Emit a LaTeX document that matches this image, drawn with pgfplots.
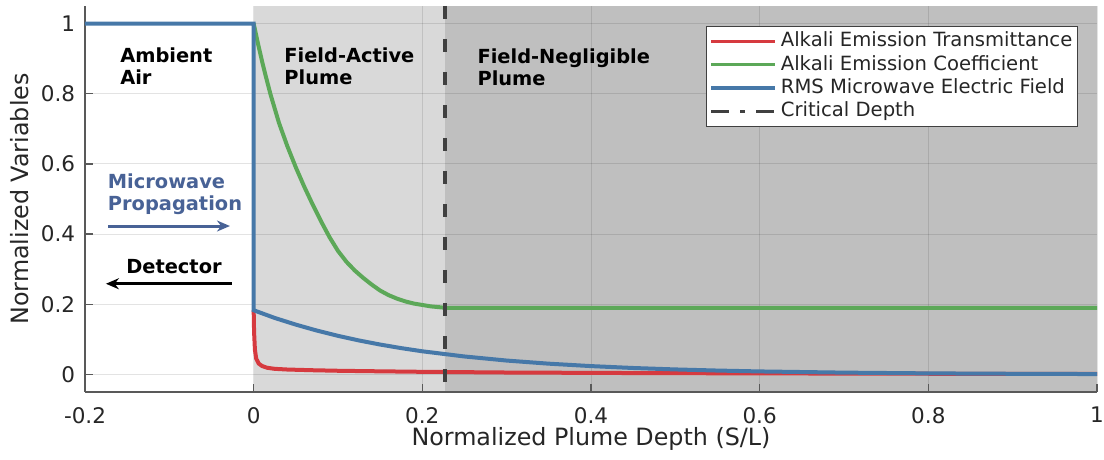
\documentclass[border=0pt]{standalone}
\usepackage{fontspec}
\setmainfont{DejaVu Sans}
\usepackage{pgfplots}
\pgfplotsset{compat=1.18}
\usetikzlibrary{arrows.meta}

\definecolor{transred}{RGB}{214,58,63}
\definecolor{coefgreen}{RGB}{92,168,88}
\definecolor{fieldblue}{RGB}{70,120,168}
\definecolor{mwblue}{RGB}{72,98,150}
\definecolor{critgray}{RGB}{64,64,64}
\definecolor{lightshade}{RGB}{217,217,217}
\definecolor{darkshade}{RGB}{191,191,191}
\definecolor{textgray}{RGB}{38,38,38}

\begin{document}
\begin{tikzpicture}
\begin{axis}[
  set layers,
  scale only axis,
  width=506pt, height=193pt,
  xmin=-0.2, xmax=1, ymin=-0.05, ymax=1.05,
  axis x line*=bottom, axis y line*=left,
  axis line style={draw=black!65, line width=0.6pt},
  tick align=inside, major tick length=4pt,
  tick style={draw=black!65, line width=0.6pt},
  xtick={-0.2,0,0.2,0.4,0.6,0.8,1},
  xticklabels={-0.2,0,0.2,0.4,0.6,0.8,1},
  ytick={0,0.2,0.4,0.6,0.8,1},
  yticklabels={0,0.2,0.4,0.6,0.8,1},
  tick label style={font=\fontsize{10.75}{12}\selectfont, text=textgray},
  xticklabel style={yshift=-4pt},
  yticklabel style={xshift=-1.4pt},
  grid=major,
  grid style={black, opacity=0.11, line width=0.5pt},
  xlabel={Normalized Plume Depth (S/L)},
  ylabel={Normalized Variables},
  label style={font=\fontsize{11.9}{14}\selectfont, text=textgray},
  xlabel style={at={(axis description cs:0.5,-0.121)}, anchor=center},
  ylabel style={at={(axis description cs:-0.0642,0.5)}, anchor=center},
  legend style={at={(axis description cs:0.981,0.948)}, anchor=north east,
    draw=black!75, line width=0.5pt, fill=white,
    font=\fontsize{9.8}{11.7}\selectfont, inner sep=1.5pt,
    nodes={inner sep=1pt, text height=7.6pt, text depth=2.1pt, text=textgray},
    cells={anchor=west}, column sep=1pt},
  legend image code/.code={\draw[#1, line width=1.6pt] (0pt,0pt) -- (32pt,0pt);},
]
% region shading
\addplot[draw=none, fill=lightshade, forget plot, on layer=axis background]
  coordinates {(0,-0.05) (0.227,-0.05) (0.227,1.05) (0,1.05)} -- cycle;
\addplot[draw=none, fill=darkshade, forget plot, on layer=axis background]
  coordinates {(0.227,-0.05) (1,-0.05) (1,1.05) (0.227,1.05)} -- cycle;

% alkali emission transmittance
\addplot[transred, line width=2pt] coordinates {
  (0,0.183) (0.0005,0.12) (0.0015,0.07) (0.003,0.045) (0.006,0.031)
  (0.01,0.024) (0.016,0.019) (0.025,0.016) (0.04,0.014) (0.07,0.012)
  (0.1,0.0105) (0.13,0.0095) (0.2,0.0075) (0.3,0.0055) (0.45,0.004)
  (0.6,0.003) (0.8,0.002) (1,0.0015)
};
\addlegendentry{Alkali Emission Transmittance}

% alkali emission coefficient
\addplot[coefgreen, line width=2pt] coordinates {
  (0,1) (0.005,0.944) (0.01,0.892) (0.015,0.844) (0.02,0.798) (0.03,0.717)
  (0.04,0.650) (0.05,0.590) (0.06,0.535) (0.07,0.484) (0.08,0.436)
  (0.09,0.391) (0.1,0.352) (0.11,0.321) (0.12,0.296) (0.13,0.275)
  (0.14,0.256) (0.15,0.239) (0.16,0.226) (0.17,0.216) (0.18,0.208)
  (0.19,0.202) (0.2,0.198) (0.21,0.194) (0.227,0.19) (1,0.19)
};
\addlegendentry{Alkali Emission Coefficient}

% RMS microwave electric field
\addplot[fieldblue, line width=2pt] coordinates {
  (-0.2,1) (0,1) (0,0.183) (0.025,0.161) (0.05,0.142) (0.075,0.125)
  (0.1,0.110) (0.125,0.0968) (0.15,0.0852) (0.175,0.0750) (0.2,0.0660)
  (0.25,0.0512) (0.3,0.0396) (0.35,0.0307) (0.4,0.0238) (0.45,0.0184)
  (0.5,0.0143) (0.55,0.0111) (0.6,0.0086) (0.7,0.0052) (0.8,0.0031)
  (0.9,0.0019) (1,0.0011)
};
\addlegendentry{RMS Microwave Electric Field}

% critical depth
\addplot[critgray, line width=1.8pt, dash pattern=on 6.5pt off 10pt,
  legend image code/.code={\draw[critgray, line width=1.6pt,
    dash pattern=on 9pt off 5.5pt on 2.5pt off 5.5pt] (0pt,0pt) -- (32pt,0pt);}]
  coordinates {(0.227,1.05) (0.227,-0.05)};
\addlegendentry{Critical Depth}

% annotations
\node[anchor=north west, align=left, inner sep=0, font=\bfseries\fontsize{9.7}{11}\selectfont]
  at (axis cs:-0.1586,0.932) {Ambient\\Air};
\node[anchor=north west, align=left, inner sep=0, font=\bfseries\fontsize{9.7}{11}\selectfont]
  at (axis cs:0.036,0.932) {Field-Active\\Plume};
\node[anchor=north west, align=left, inner sep=0, font=\bfseries\fontsize{9.7}{11}\selectfont]
  at (axis cs:0.265,0.930) {Field-Negligible\\Plume};
\node[anchor=north west, align=left, inner sep=0, text=mwblue, font=\bfseries\fontsize{9.7}{11.2}\selectfont]
  at (axis cs:-0.1733,0.573) {Microwave\\Propagation};
\draw[mwblue, line width=1.5pt, -{Stealth[length=6.5pt,width=5.5pt]}]
  (axis cs:-0.1725,0.423) -- (axis cs:-0.0281,0.423);
\node[anchor=north west, inner sep=0, font=\bfseries\fontsize{9.7}{11}\selectfont]
  at (axis cs:-0.1515,0.3287) {Detector};
\draw[black, line width=1.5pt, -{Stealth[length=6.5pt,width=5.5pt]}]
  (axis cs:-0.0261,0.2585) -- (axis cs:-0.1752,0.2585);

\coordinate (SW) at (axis description cs:0,0);
\coordinate (NE) at (axis description cs:1,1);
\end{axis}
\pgfresetboundingbox
\path[use as bounding box] ([xshift=-42.5pt,yshift=-34pt]SW) rectangle ([xshift=3.5pt,yshift=3pt]NE);
\end{tikzpicture}
\end{document}
